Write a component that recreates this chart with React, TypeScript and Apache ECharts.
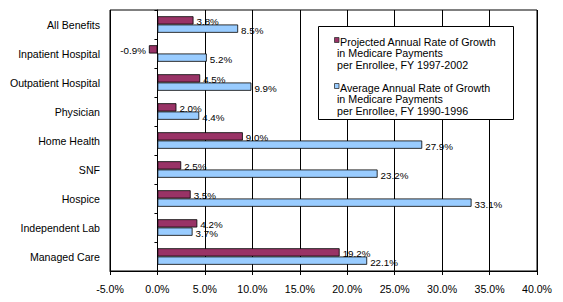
import React, { useEffect, useRef } from "react";
import * as echarts from "echarts";

const categories = [
  "All Benefits",
  "Inpatient Hospital",
  "Outpatient Hospital",
  "Physician",
  "Home Health",
  "SNF",
  "Hospice",
  "Independent Lab",
  "Managed Care",
];
const projected = [3.8, -0.9, 4.5, 2.0, 9.0, 2.5, 3.5, 4.2, 19.2];
const average = [8.5, 5.2, 9.9, 4.4, 27.9, 23.2, 33.1, 3.7, 22.1];
const seriesNames = [
  "Projected Annual Rate of Growth\nin Medicare Payments\nper Enrollee, FY 1997-2002",
  "Average Annual Rate of Growth\nin Medicare Payments\nper Enrollee, FY 1990-1996",
];
const legendLines = [
  ["Projected Annual Rate of Growth", "in Medicare Payments", "per Enrollee, FY 1997-2002"],
  ["Average Annual Rate of Growth", "in Medicare Payments", "per Enrollee, FY 1990-1996"],
];
const colors = ["#993366", "#99CCFF"];

const FONT = "Liberation Sans, Arial, sans-serif";

export default function App() {
  const ref = useRef<HTMLDivElement>(null);
  useEffect(() => {
    if (!ref.current) return;
    const chart = echarts.init(ref.current, null, { renderer: "svg" });
    const labelFmt = (p: any) => p.value.toFixed(1) + "%";
    const mkSeries = (i: number, data: number[]) => ({
      type: "bar",
      name: seriesNames[i],
      yAxisIndex: 0,
      data: data.map((v) => ({
        value: v,
        label: {
          show: true,
          position: v < 0 ? "left" : "right",
          distance: 3,
          offset: [0, i === 0 ? 1 : 1.5],
          formatter: labelFmt,
          color: "#000",
          fontSize: 9.8,
          fontFamily: FONT,
        },
      })),
      barGap: "0%",
      barCategoryGap: "43%",
      itemStyle: { color: colors[i], borderColor: "#000", borderWidth: 0.8 },
      emphasis: { disabled: true },
    });

    const legendGraphics: any[] = [
      {
        type: "rect",
        shape: { x: 318.5, y: 26.5, width: 195, height: 93 },
        style: { fill: "#fff", stroke: "#000", lineWidth: 1 },
        z: 100,
      },
    ];
    const tops = [36, 82];
    legendLines.forEach((lines, i) => {
      legendGraphics.push({
        type: "rect",
        shape: { x: 334.5, y: tops[i] + 1.5, width: 4.5, height: 5 },
        style: { fill: colors[i], stroke: "#333", lineWidth: 0.8 },
        z: 101,
      });
      lines.forEach((ln, j) => {
        legendGraphics.push({
          type: "text",
          x: j === 0 ? 340 : 337,
          y: tops[i] + j * 11.5,
          style: {
            text: ln,
            fill: "#000",
            font: `10.7px ${FONT}`,
            textVerticalAlign: "top",
          },
          z: 101,
        });
      });
    });

    chart.setOption({
      animation: false,
      backgroundColor: "#fff",
      grid: {
        left: 110,
        right: 26,
        top: 10,
        bottom: 31,
        outerBoundsMode: "none",
        containLabel: false,
        show: true,
        borderColor: "#000",
        borderWidth: 1,
        backgroundColor: "transparent",
      },
      xAxis: {
        type: "value",
        min: -5,
        max: 40,
        interval: 5,
        axisLine: { show: true, onZero: false, lineStyle: { color: "#000" } },
        axisTick: { show: true, length: 4, lineStyle: { color: "#000" } },
        axisLabel: {
          formatter: (v: number) => v.toFixed(1) + "%",
          color: "#000",
          fontSize: 10.6,
          fontFamily: FONT,
          margin: 12,
        },
        splitLine: { show: true, lineStyle: { color: "#000", width: 1 } },
      },
      yAxis: [
        {
          type: "category",
          data: categories,
          inverse: true,
          position: "left",
          axisLine: { show: false, onZero: false },
          axisTick: { show: false },
          axisLabel: {
            color: "#000",
            fontSize: 10.6,
            fontFamily: FONT,
            margin: 10,
          },
        },
        {
          type: "category",
          data: categories,
          inverse: true,
          position: "left",
          axisLine: { show: true, onZero: true, lineStyle: { color: "#000" } },
          axisTick: { show: true, length: 3, lineStyle: { color: "#000" } },
          axisLabel: { show: false },
        },
      ],
      series: [mkSeries(0, projected), mkSeries(1, average)],
      graphic: legendGraphics,
    });
    return () => chart.dispose();
  }, []);
  return (
    <div
      ref={ref}
      style={{ width: 563, height: 302, position: "fixed", left: 0, top: 0 }}
    />
  );
}
